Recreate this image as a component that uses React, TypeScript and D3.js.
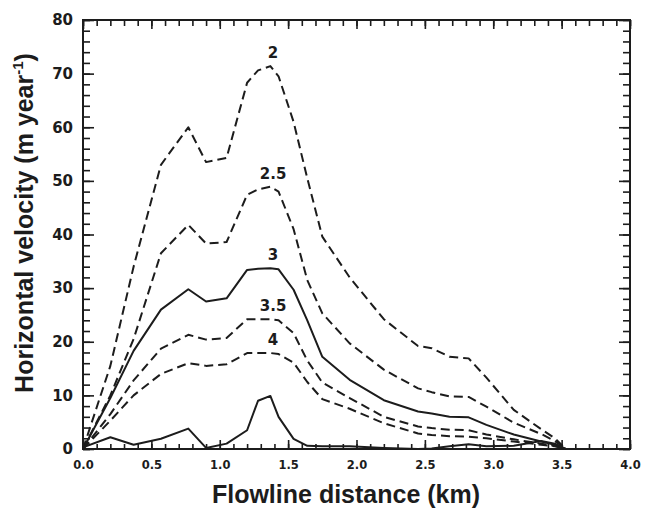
import React, { useEffect, useRef } from 'react'
import * as d3 from 'd3'

// flowline distance (km) where velocities were read
const distance = [0, 0.2, 0.37, 0.57, 0.77, 0.9, 1.05, 1.2, 1.28, 1.37, 1.43, 1.54, 1.64, 1.75, 1.95, 2.2, 2.45, 2.55, 2.68, 2.82, 2.95, 3.15, 3.35, 3.45, 3.53]

// horizontal velocity (m/yr) for each curve
const curve2 = [0, 15.5, 34, 53, 60, 53.5, 54.3, 68.3, 70.6, 71.4, 69.5, 61, 50.5, 39.6, 32, 24.2, 19.2, 18.8, 17.2, 16.9, 13.3, 7.3, 3.7, 2, 0]
const curve25 = [0, 10, 20.5, 36.5, 41.8, 38.3, 38.6, 47.4, 48.4, 48.9, 48, 41, 31.5, 25.3, 19.7, 14.8, 11.3, 10.6, 9.8, 9.7, 7.9, 4.9, 2.8, 1.5, 0]
const curve3 = [0, 9.5, 18.3, 26, 29.8, 27.5, 28.1, 33.4, 33.6, 33.7, 33.5, 29.7, 24, 17.2, 12.9, 9.1, 7.0, 6.6, 6.0, 5.9, 4.5, 2.7, 1.4, 0.8, 0]
const curve35 = [0, 6.5, 12.8, 18.7, 21.3, 20.4, 20.7, 24.2, 24.2, 24.2, 24, 21.6, 16.5, 12.4, 9.5, 6.0, 4.2, 3.9, 3.6, 3.5, 2.7, 1.8, 1.0, 0.6, 0]
const curve4 = [0, 5.3, 10, 14, 16.0, 15.5, 15.8, 17.9, 17.9, 17.9, 17.7, 16.1, 12.5, 9.3, 7.5, 4.8, 2.9, 2.6, 2.4, 2.3, 2.0, 1.4, 0.8, 0.5, 0]
const curveBase = [0.3, 2.2, 0.8, 1.9, 3.8, 0.2, 1.0, 3.5, 9.0, 9.9, 6, 1.9, 0.6, 0.5, 0.5, 0.2, 0, 0.1, 0.5, 0.9, 0.5, 0.6, 1.5, 1.0, 0]

const curveLabels = ['2', '2.5', '3', '3.5', '4', '']
const curveDashed = [true, true, false, true, true, false]

const xTicks = [0, 0.5, 1, 1.5, 2, 2.5, 3, 3.5, 4]
const yTicks = [0, 10, 20, 30, 40, 50, 60, 70, 80]

function chart(node: SVGSVGElement) {
  var svg = d3.select(node)
  svg.selectAll('*').remove()

  var ink = '#1c1c1c'
  var left = 83, right = 630, top = 20, bottom = 449

  var x = d3.scaleLinear().domain([0, 4]).range([left, right])
  var y = d3.scaleLinear().domain([0, 80]).range([bottom, top])

  var series = [curve2, curve25, curve3, curve35, curve4, curveBase]

  var line = d3.line<number>()
    .x(function (d, i) { return x(distance[i]) })
    .y(function (d) { return y(d) })

  var minorX = d3.range(0, 40.5, 1).map(function (d) { return d / 10 })
  var minorY = d3.range(0, 81, 2)

  // ticks on all four sides, pointing inward
  function ticks(axis: any, pos: string) {
    var g = svg.append('g').attr('transform', pos).call(axis)
    g.select('.domain').remove()
    g.selectAll('line').attr('stroke', ink).attr('stroke-width', 1.6)
    return g
  }

  ticks(d3.axisBottom(x).tickValues(minorX).tickSize(-5).tickFormat(() => ''), `translate(0,${bottom})`)
  ticks(d3.axisTop(x).tickValues(minorX).tickSize(-6).tickFormat(() => ''), `translate(0,${top})`)
  ticks(d3.axisTop(x).tickValues(xTicks).tickSize(-9).tickFormat(() => ''), `translate(0,${top})`)
  ticks(d3.axisLeft(y).tickValues(minorY).tickSize(-7).tickFormat(() => ''), `translate(${left},0)`)
  ticks(d3.axisRight(y).tickValues(minorY).tickSize(-7).tickFormat(() => ''), `translate(${right},0)`)
  ticks(d3.axisRight(y).tickValues(yTicks).tickSize(-11).tickFormat(() => ''), `translate(${right},0)`)

  var xAxis = ticks(d3.axisBottom(x).tickValues(xTicks).tickSize(-9).tickPadding(12).tickFormat(d3.format('.1f')), `translate(0,${bottom})`)
  xAxis.selectAll('text')
    .attr('fill', ink)
    .attr('font-family', 'DejaVu Sans, sans-serif')
    .attr('font-weight', 'bold')
    .attr('font-size', 11.5)

  var yAxis = ticks(d3.axisLeft(y).tickValues(yTicks).tickSize(-11).tickPadding(10).tickFormat(d3.format('d')), `translate(${left},0)`)
  yAxis.selectAll('text')
    .attr('fill', ink)
    .attr('font-family', 'DejaVu Sans, sans-serif')
    .attr('font-weight', 'bold')
    .attr('font-size', 15)

  // frame
  svg.append('rect')
    .attr('x', left).attr('y', top)
    .attr('width', right - left).attr('height', bottom - top)
    .attr('fill', 'none')
    .attr('stroke', ink)
    .attr('stroke-width', 2)

  svg.append('g').selectAll('path')
    .data(series)
    .enter()
      .append('path')
      .attr('d', function (d) { return line(d) })
      .attr('fill', 'none')
      .attr('stroke', ink)
      .attr('stroke-width', 2)
      .attr('stroke-linejoin', 'round')
      .attr('stroke-dasharray', function (d, i) { return curveDashed[i] ? '9,5' : null })

  // curve labels sit just above each peak
  svg.append('g').selectAll('text')
    .data(series)
    .enter()
      .append('text')
      .attr('x', x(1.39))
      .attr('y', function (d) { return y(d3.max(d) as number) - 13.5 })
      .attr('dy', '0.36em')
      .attr('text-anchor', 'middle')
      .attr('fill', ink)
      .attr('font-family', 'DejaVu Sans, sans-serif')
      .attr('font-weight', 'bold')
      .attr('font-size', 15)
      .text(function (d, i) { return curveLabels[i] })

  svg.append('text')
    .attr('x', 346)
    .attr('y', 503)
    .attr('text-anchor', 'middle')
    .attr('fill', ink)
    .attr('font-family', 'Liberation Sans, Arial, sans-serif')
    .attr('font-weight', 'bold')
    .attr('font-size', 25)
    .text('Flowline distance (km)')

  var yTitle = svg.append('text')
    .attr('transform', 'translate(33,223) rotate(-90)')
    .attr('text-anchor', 'middle')
    .attr('fill', ink)
    .attr('font-family', 'Liberation Sans, Arial, sans-serif')
    .attr('font-weight', 'bold')
    .attr('font-size', 25)
  yTitle.append('tspan').text('Horizontal velocity (m year')
  yTitle.append('tspan').attr('dy', -10).attr('font-size', 15).text('-1')
  yTitle.append('tspan').attr('dy', 10).text(')')
}

export default function App() {
  const ref = useRef<SVGSVGElement>(null)

  useEffect(() => {
    if (ref.current) chart(ref.current)
  }, [])

  return (
    <svg ref={ref} width={648} height={514}
      style={{ position: 'absolute', left: 0, top: 0, background: '#fff' }} />
  )
}
